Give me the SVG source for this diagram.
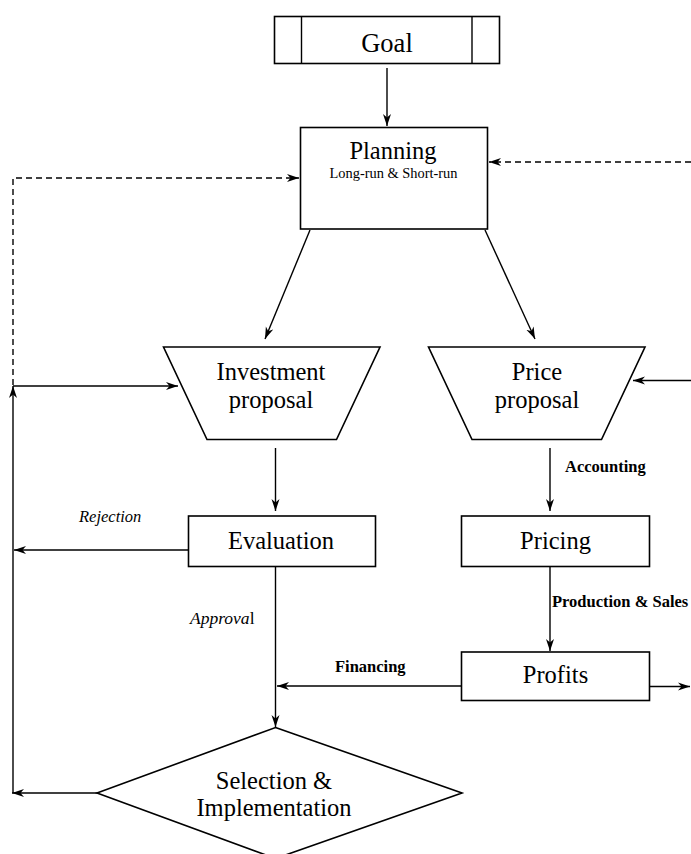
<svg xmlns="http://www.w3.org/2000/svg" width="691" height="854" viewBox="0 0 691 854">
<style>
.node{fill:#fff;stroke:#000;stroke-width:1.6}
.ln{fill:none;stroke:#000;stroke-width:1.4}
.dash{stroke-dasharray:6,4}
.t{font-family:"Liberation Serif","Times New Roman",serif;fill:#000;text-anchor:middle}
.big{font-size:24.5px}
.goal{font-size:26.5px}
.small{font-size:14.4px}
.lab{font-family:"Liberation Serif","Times New Roman",serif;fill:#000;font-size:16.5px}
.b{font-weight:bold}
.i{font-style:italic}
</style>
<defs>
<marker id="ah" markerUnits="userSpaceOnUse" markerWidth="13" markerHeight="9" refX="12" refY="4.5" orient="auto" viewBox="0 0 13 9">
<path d="M0,0.5 L12,4.5 L0,8.5 L3.5,4.5 z" fill="#000"/>
</marker>
</defs>
<rect width="691" height="854" fill="#fff"/>
<g id="connectors">
<line class="ln" x1="387" y1="68" x2="387" y2="126" marker-end="url(#ah)"/>
<line class="ln" x1="310" y1="230" x2="265" y2="339" marker-end="url(#ah)"/>
<line class="ln" x1="485" y1="230" x2="535" y2="339" marker-end="url(#ah)"/>
<line class="ln dash" x1="691" y1="162" x2="489" y2="162" marker-end="url(#ah)"/>
<polyline class="ln dash" points="13,385 13,178 299,178" marker-end="url(#ah)"/>
<line class="ln" x1="13" y1="386" x2="178" y2="386" marker-end="url(#ah)"/>
<line class="ln" x1="13" y1="793" x2="13" y2="386" marker-end="url(#ah)"/>
<line class="ln" x1="691" y1="380.5" x2="633" y2="380.5" marker-end="url(#ah)"/>
<line class="ln" x1="275.5" y1="448" x2="275.5" y2="511" marker-end="url(#ah)"/>
<line class="ln" x1="188" y1="550" x2="14" y2="550" marker-end="url(#ah)"/>
<line class="ln" x1="275.5" y1="567" x2="275.5" y2="727" marker-end="url(#ah)"/>
<line class="ln" x1="461.5" y1="686" x2="277" y2="686" marker-end="url(#ah)"/>
<line class="ln" x1="97" y1="793" x2="12" y2="793" marker-end="url(#ah)"/>
<line class="ln" x1="550" y1="448" x2="550" y2="511" marker-end="url(#ah)"/>
<line class="ln" x1="550" y1="567" x2="550" y2="651" marker-end="url(#ah)"/>
<line class="ln" x1="649.5" y1="686.5" x2="690" y2="686.5" marker-end="url(#ah)"/>
<text class="lab i" x="79" y="522">Rejection</text>
<text class="lab" x="190" y="624" style="font-size:17.5px"><tspan class="i">Approva</tspan>l</text>
<text class="lab b" x="335" y="672">Financing</text>
<text class="lab b" x="565" y="472">Accounting</text>
<text class="lab b" x="552" y="607">Production &amp; Sales</text>
</g>
<g id="goal">
<rect class="node" x="274.5" y="16.5" width="225" height="47"/>
<line class="ln" x1="301.5" y1="16.5" x2="301.5" y2="63.5"/>
<line class="ln" x1="472" y1="16.5" x2="472" y2="63.5"/>
<text class="t goal" x="387" y="51.5">Goal</text>
</g>
<g id="planning">
<rect class="node" x="300.5" y="127.5" width="187" height="101.5"/>
<text class="t big" x="393" y="158.5">Planning</text>
<text class="t small" x="393.5" y="178">Long-run &amp; Short-run</text>
</g>
<g id="investment">
<polygon class="node" points="163.5,347 380,347 336.5,439.5 207,439.5"/>
<text class="t big" x="271" y="379.5">Investment</text>
<text class="t big" x="271" y="407.5">proposal</text>
</g>
<g id="price">
<polygon class="node" points="428.5,347 645,347 601.5,439.5 472,439.5"/>
<text class="t big" x="537" y="379.5">Price</text>
<text class="t big" x="537" y="407.5">proposal</text>
</g>
<g id="evaluation">
<rect class="node" x="188.5" y="516" width="187" height="50.5"/>
<text class="t big" x="281" y="548.5">Evaluation</text>
</g>
<g id="pricing">
<rect class="node" x="461.5" y="516" width="188" height="50.5"/>
<text class="t big" x="555.5" y="548.5">Pricing</text>
</g>
<g id="profits">
<rect class="node" x="461.5" y="652" width="188" height="48.5"/>
<text class="t big" x="555.5" y="682.5">Profits</text>
</g>
<g id="selection">
<polygon class="node" points="275.5,727.5 462,793 275.5,858.5 97,793"/>
<text class="t big" x="274" y="788.5">Selection &amp;</text>
<text class="t big" x="274" y="815.5">Implementation</text>
</g>
</svg>
